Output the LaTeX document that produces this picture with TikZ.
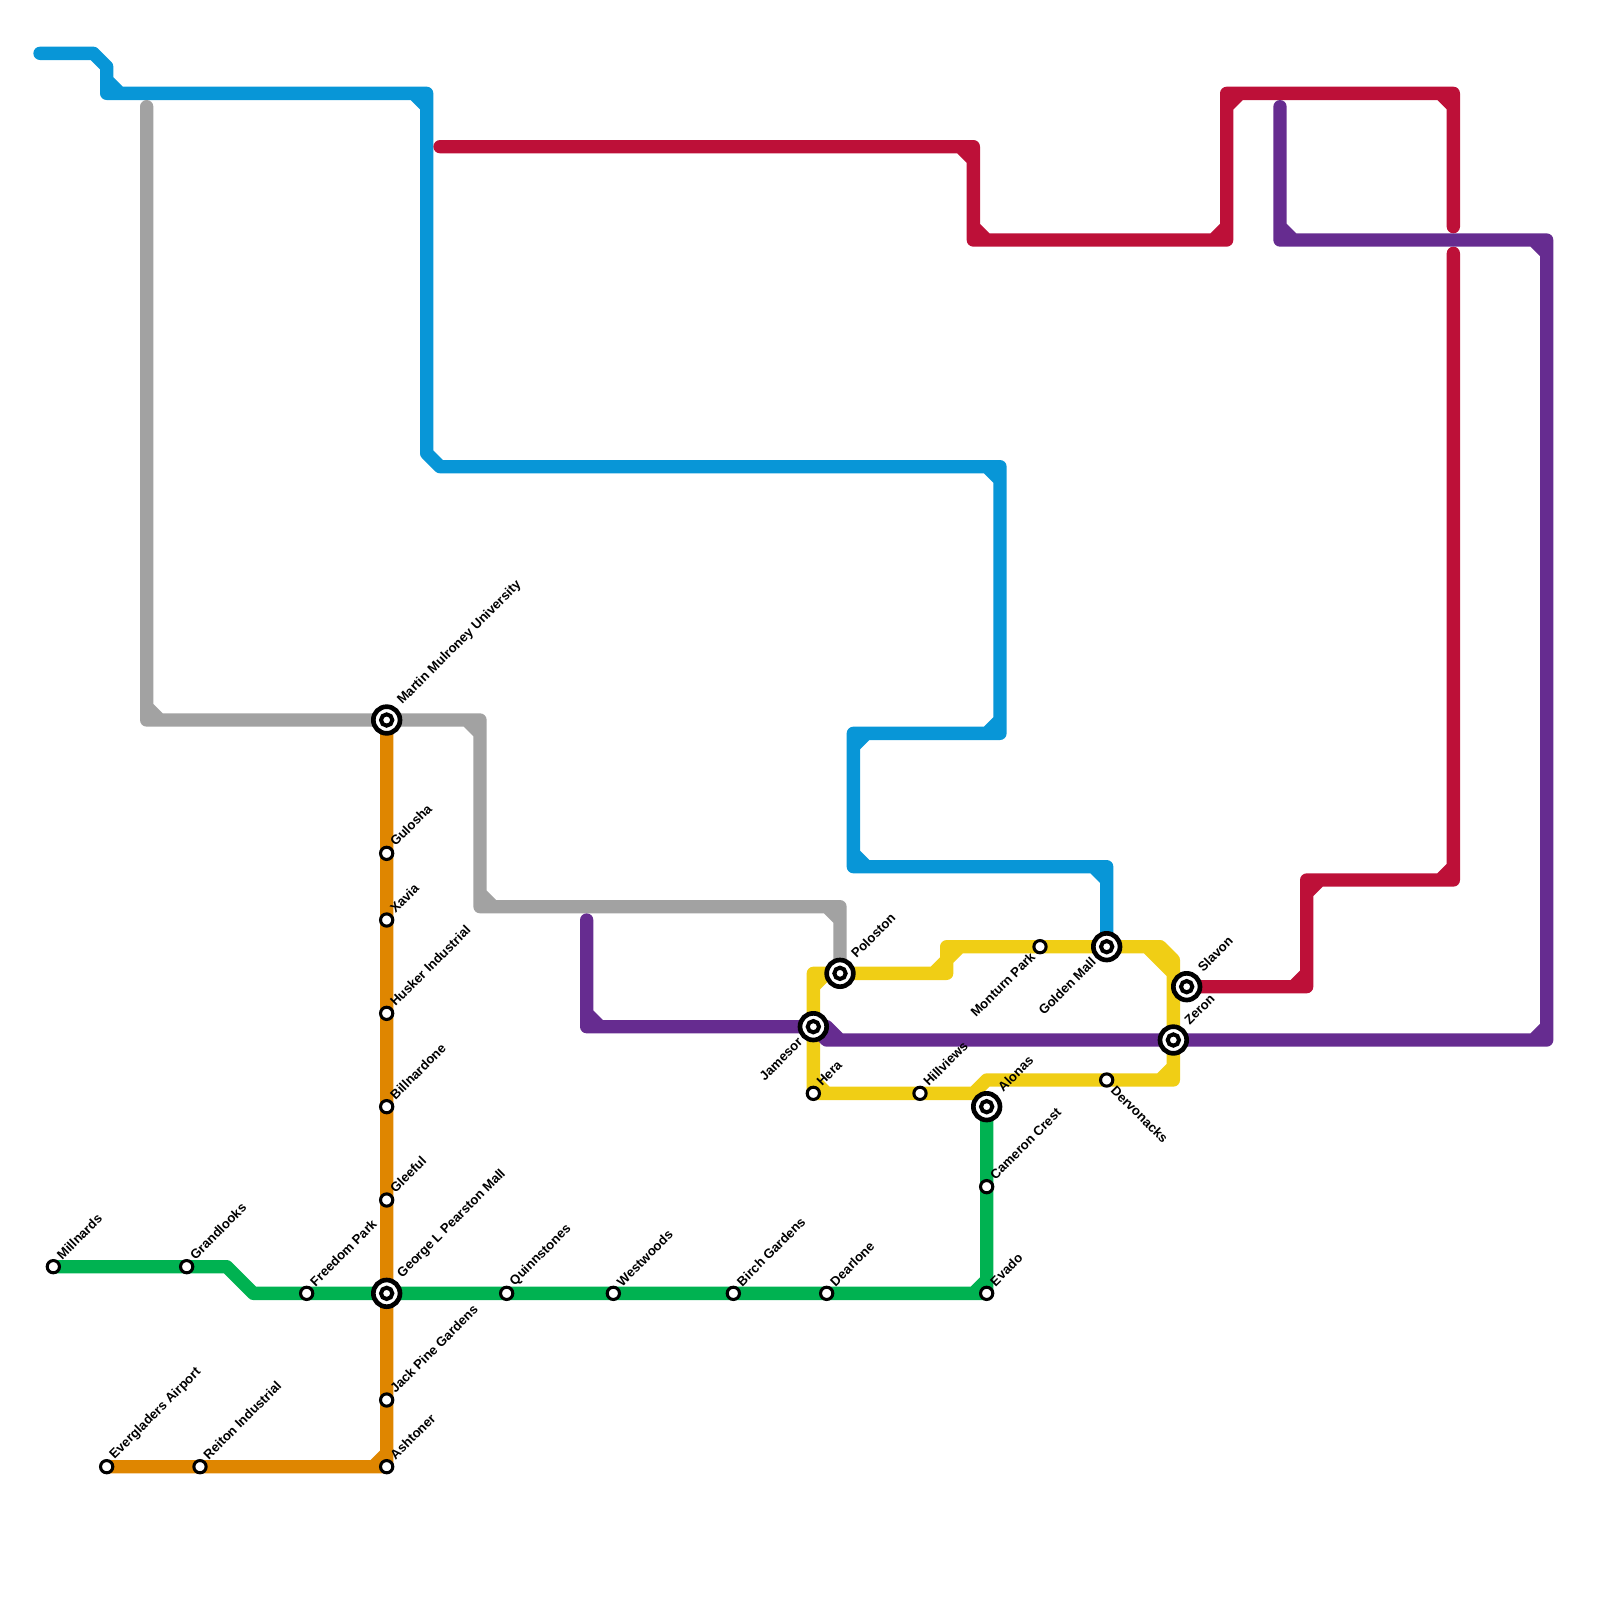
\documentclass[tikz,border=0pt]{standalone}
\usepackage{fontspec}
\setmainfont{Liberation Sans}
\usetikzlibrary{backgrounds}
\definecolor{lnblue}{HTML}{0896D7}
\definecolor{lngrey}{HTML}{A2A2A2}
\definecolor{lnorange}{HTML}{DF8600}
\definecolor{lngreen}{HTML}{00B251}
\definecolor{lnred}{HTML}{BD1038}
\definecolor{lnpurple}{HTML}{662C90}
\definecolor{lnyellow}{HTML}{F0CE15}
\tikzset{
  x=0.4cm,y=-0.4cm,
  route/.style={line width=0.4cm,line cap=round,line join=round},
  stop/.style={circle,draw=black,fill=white,line width=0.092cm,minimum size=0.368cm,inner sep=0pt,outer sep=0pt},
  hub/.style={circle,draw=black,fill=white,line width=0.14cm,minimum size=0.8cm,inner sep=0pt,outer sep=0pt,
    path picture={\draw[black,line width=0.12cm] (path picture bounding box.center) circle (0.17cm);}},
  nm/.style={font=\bfseries\fontsize{11.2}{13}\selectfont,inner sep=0pt,outer sep=0pt,text=black},
  ur/.style={nm,shift={(0.17cm,0.29cm)},rotate=45,anchor=west},
  urb/.style={nm,shift={(0.40cm,0.53cm)},rotate=45,anchor=west},
  dl/.style={nm,shift={(-0.22cm,-0.24cm)},rotate=45,anchor=east},
  dlb/.style={nm,shift={(-0.4cm,-0.4cm)},rotate=45,anchor=east},
  dr/.style={nm,shift={(0.2cm,-0.24cm)},rotate=-45,anchor=west},
}
\begin{document}
\begin{tikzpicture}
\useasboundingbox (0,0) rectangle (120,120);
% stations
\node[stop] (millnards) at (4,95) {};
\node[stop] (grandlooks) at (14,95) {};
\node[stop] (freedom) at (23,97) {};
\node[hub] (george) at (29,97) {};
\node[stop] (quinn) at (38,97) {};
\node[stop] (westwoods) at (46,97) {};
\node[stop] (birch) at (55,97) {};
\node[stop] (dearlone) at (62,97) {};
\node[stop] (evado) at (74,97) {};
\node[stop] (cameron) at (74,89) {};
\node[hub] (alonas) at (74,83) {};
\node[hub] (martin) at (29,54) {};
\node[stop] (gulosha) at (29,64) {};
\node[stop] (xavia) at (29,69) {};
\node[stop] (husker) at (29,76) {};
\node[stop] (bill) at (29,83) {};
\node[stop] (gleeful) at (29,90) {};
\node[stop] (jackpine) at (29,105) {};
\node[stop] (ashtoner) at (29,110) {};
\node[stop] (reiton) at (15,110) {};
\node[stop] (everglad) at (8,110) {};
\node[hub] (poloston) at (63,73) {};
\node[hub] (jamesor) at (61,77) {};
\node[stop] (hera) at (61,82) {};
\node[stop] (hillviews) at (69,82) {};
\node[stop] (monturn) at (78,71) {};
\node[hub] (golden) at (83,71) {};
\node[hub] (slavon) at (89,74) {};
\node[hub] (zeron) at (88,78) {};
\node[stop] (dervon) at (83,81) {};
% free ends of the lines
\coordinate (blue0) at (3,4);
\coordinate (grey0) at (11,8);
\coordinate (red0) at (33,11);
\coordinate (red1) at (109,17);
\coordinate (red2) at (109,19);
\coordinate (purple0) at (44,69);
\coordinate (purple1) at (96,8);
% labels
\node[ur] (t1) at (millnards) {Millnards};
\node[ur] (t2) at (grandlooks) {Grandlooks};
\node[ur] (t3) at (freedom) {Freedom Park};
\node[urb] (t4) at (george) {George L Pearston Mall};
\node[ur] (t5) at (quinn) {Quinnstones};
\node[ur] (t6) at (westwoods) {Westwoods};
\node[ur] (t7) at (birch) {Birch Gardens};
\node[ur] (t8) at (dearlone) {Dearlone};
\node[ur] (t9) at (evado) {Evado};
\node[ur] (t10) at (cameron) {Cameron Crest};
\node[urb] (t11) at (alonas) {Alonas};
\node[urb] (t12) at (martin) {Martin Mulroney University};
\node[ur] (t13) at (gulosha) {Gulosha};
\node[ur] (t14) at (xavia) {Xavia};
\node[ur] (t15) at (husker) {Husker Industrial};
\node[ur] (t16) at (bill) {Billnardone};
\node[ur] (t17) at (gleeful) {Gleeful};
\node[ur] (t18) at (jackpine) {Jack Pine Gardens};
\node[ur] (t19) at (ashtoner) {Ashtoner};
\node[ur] (t20) at (reiton) {Reiton Industrial};
\node[ur] (t21) at (everglad) {Evergladers Airport};
\node[urb] (t22) at (poloston) {Poloston};
\node[dlb] (t23) at (jamesor) {Jamesor};
\node[ur] (t24) at (hera) {Hera};
\node[ur] (t25) at (hillviews) {Hillviews};
\node[dl] (t26) at (monturn) {Monturn Park};
\node[dlb] (t27) at (golden) {Golden Mall};
\node[urb] (t28) at (slavon) {Slavon};
\node[urb] (t29) at (zeron) {Zeron};
\node[dr] (t30) at (dervon) {Dervonacks};
% lines
\begin{pgfonlayer}{background}
\draw[route,lnblue] (blue0) -- (7,4) -- (8,5) -- (8,7) (8,6) -- (9,7)
  (8,7) -- (32,7) (31,7) -- (32,8) (32,7) -- (32,34) -- (33,35) -- (75,35)
  (74,35) -- (75,36) (75,35) -- (75,55) (75,54) -- (74,55) (75,55) -- (64,55)
  (65,55) -- (64,56) (64,55) -- (64,65) (64,64) -- (65,65) (64,65) -- (83,65)
  (82,65) -- (83,66) (83,65) -- (golden.center);
\draw[route,lngrey] (grey0) -- (11,54) (11,53) -- (12,54) (11,54) -- (36,54)
  (35,54) -- (36,55) (36,54) -- (36,68) (36,67) -- (37,68) (36,68) -- (63,68)
  (62,68) -- (63,69) (63,68) -- (poloston.center);
\draw[route,lnorange] (martin.center) -- (ashtoner.center) (28,110) -- (29,109)
  (ashtoner.center) -- (everglad.center);
\draw[route,lngreen] (millnards.center) -- (17,95) -- (19,97) -- (evado.center)
  (73,97) -- (74,96) (evado.center) -- (alonas.center);
\draw[route,lnred] (red0) -- (73,11) (72,11) -- (73,12) (73,11) -- (73,18)
  (73,17) -- (74,18) (73,18) -- (92,18) (91,18) -- (92,17) (92,18) -- (92,7)
  (92,8) -- (93,7) (92,7) -- (109,7) (108,7) -- (109,8) (109,7) -- (red1)
  (red2) -- (109,66) (109,65) -- (108,66) (109,66) -- (98,66) (99,66) -- (98,67)
  (98,66) -- (98,74) (98,73) -- (97,74) (98,74) -- (slavon.center);
\draw[route,lnyellow] (poloston.center) -- (71,73) (70,73) -- (71,72) (71,73) -- (71,71)
  (71,72) -- (72,71) (71,71) -- (87,71) -- (88,72) (86,71) -- (88,73) (88,72) -- (88,81)
  (88,80) -- (87,81) (88,81) -- (74,81) -- (73,82) -- (hera.center)
  (61,81) -- (62,82) (hera.center) -- (61,73) -- (poloston.center) (61,74) -- (62,73);
\draw[route,lnpurple] (purple0) -- (44,77) (44,76) -- (45,77) (44,77) -- (jamesor.center) -- (62,78)
  (62,77) -- (63,78) (62,78) -- (116,78) (115,78) -- (116,77) (116,78) -- (116,18)
  (116,19) -- (115,18) (116,18) -- (96,18) (97,18) -- (96,17) (96,18) -- (purple1);
\end{pgfonlayer}
\end{tikzpicture}
\end{document}
